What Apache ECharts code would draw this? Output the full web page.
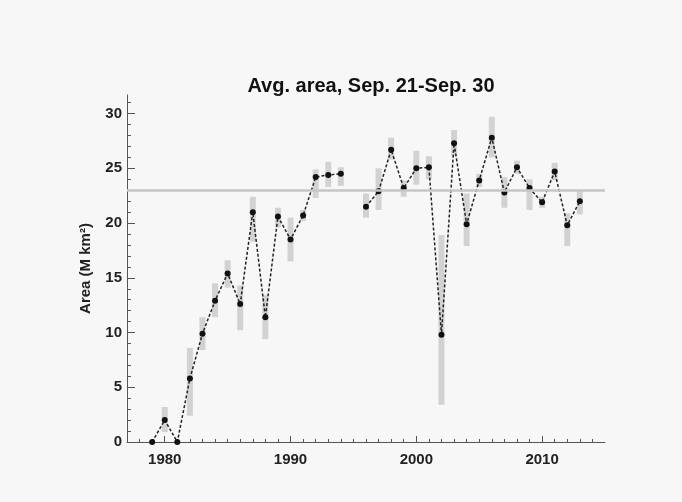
<!DOCTYPE html>
<html><head><meta charset="utf-8">
<script src="https://cdn.jsdelivr.net/npm/echarts@6/dist/echarts.min.js"></script>
<style>html,body{margin:0;padding:0;background:#f7f7f7}#c{width:682px;height:502px}</style>
</head><body><div id="c"></div>
<script>
const titleText = 'Avg. area, Sep. 21-Sep. 30';
const yName = 'Area (M km\u00B2)';
const years = [1979,1980,1981,1982,1983,1984,1985,1986,1987,1988,1989,1990,1991,1992,1993,1994,1995,1996,1997,1998,1999,2000,2001,2002,2003,2004,2005,2006,2007,2008,2009,2010,2011,2012,2013];
const area = [0,2.0,0,5.8,9.9,12.9,15.4,12.6,21.0,11.4,20.6,18.5,20.7,24.2,24.4,24.5,null,21.5,22.9,26.7,23.2,25.0,25.1,9.8,27.3,19.9,23.9,27.8,22.8,25.1,23.2,21.9,24.7,19.8,22.0];
const errLow = [null,0.9,null,2.4,8.4,11.4,14.1,10.2,18.3,9.4,19.6,16.5,20.2,22.3,23.3,23.4,null,20.5,21.2,25.8,22.4,23.5,24.0,3.4,26.1,17.9,23.3,26.0,21.4,24.5,21.2,21.4,23.9,17.9,20.8];
const errHigh = [null,3.2,null,8.6,11.4,14.5,16.6,14.3,22.4,13.4,21.4,20.5,21.2,24.9,25.6,25.1,null,22.7,25.0,27.8,23.9,26.6,26.1,18.9,28.5,22.7,24.5,29.7,24.2,25.7,24.0,22.4,25.5,20.9,23.0];
const meanArea = 23;
const xMajorTicks = [1980,1990,2000,2010];
const xMinorTicks = [1978,1979,1980,1981,1982,1983,1984,1985,1986,1987,1988,1989,1990,1991,1992,1993,1994,1995,1996,1997,1998,1999,2000,2001,2002,2003,2004,2005,2006,2007,2008,2009,2010,2011,2012,2013,2014];
const yMajorTicks = [0,5,10,15,20,25,30];
const yMinorTicks = [1,2,3,4,6,7,8,9,11,12,13,14,16,17,18,19,21,22,23,24,26,27,28,29,31];

const chart = echarts.init(document.getElementById('c'), null, {renderer:'canvas'});
const font = '"Liberation Sans", Arial, Helvetica, sans-serif';
const axisColor = '#555';
const errData = [];
years.forEach((y,i)=>{ if(errLow[i]!=null) errData.push([y, errLow[i], errHigh[i]]); });
const lineData = years.map((y,i)=>[y, area[i]==null ? '-' : area[i]]);

const xBase = {type:'value', min:1977, max:2015, gridIndex:0, position:'bottom', splitLine:{show:false}};
const yBase = {type:'value', min:0, max:31.7, gridIndex:0, position:'left', splitLine:{show:false}};

chart.setOption({
  animation:false,
  backgroundColor:'#f7f7f7',
  title:{text:titleText, left:366, top:71, textAlign:'center',
    textStyle:{fontFamily:font, fontWeight:'bold', fontSize:20, color:'#111'}},
  grid:{left:127, right:77, top:95, bottom:60},
  xAxis:[
    Object.assign({}, xBase, {
      axisLine:{show:true, lineStyle:{color:axisColor, width:1}},
      axisTick:{show:true, inside:true, length:6, customValues:xMajorTicks, lineStyle:{color:axisColor}},
      axisLabel:{show:true, customValues:xMajorTicks, margin:10, formatter:function(v){return String(v);},
        fontFamily:font, fontWeight:'bold', fontSize:15, color:'#222'}
    }),
    Object.assign({}, xBase, {
      axisLine:{show:false},
      axisTick:{show:true, inside:true, length:3, customValues:xMinorTicks, lineStyle:{color:axisColor}},
      axisLabel:{show:false, customValues:xMinorTicks}
    })
  ],
  yAxis:[
    Object.assign({}, yBase, {
      name:yName, nameLocation:'middle', nameGap:34, nameRotate:90,
      nameTextStyle:{fontFamily:font, fontWeight:'bold', fontSize:15, color:'#222'},
      axisLine:{show:true, lineStyle:{color:axisColor, width:1}},
      axisTick:{show:true, inside:true, length:8, customValues:yMajorTicks, lineStyle:{color:axisColor}},
      axisLabel:{show:true, customValues:yMajorTicks, margin:5, fontFamily:font, fontWeight:'bold', fontSize:15, color:'#222'}
    }),
    Object.assign({}, yBase, {
      axisLine:{show:false},
      axisTick:{show:true, inside:true, length:4, customValues:yMinorTicks, lineStyle:{color:axisColor}},
      axisLabel:{show:false, customValues:yMinorTicks}
    })
  ],
  series:[
    {
      type:'custom', xAxisIndex:0, yAxisIndex:0, data:errData, silent:true,
      renderItem:function(params, api){
        const x = api.value(0), lo = api.value(1), hi = api.value(2);
        const p1 = api.coord([x, hi]), p2 = api.coord([x, lo]);
        const w = 6;
        return {type:'rect', shape:{x:p1[0]-w/2, y:p1[1], width:w, height:p2[1]-p1[1]}, style:{fill:'#d2d2d2'}};
      },
      markLine:{silent:true, symbol:'none', label:{show:false},
        lineStyle:{color:'#c6c6c6', width:2.5, type:'solid'},
        data:[{yAxis:meanArea}]}
    },
    {
      type:'line', xAxisIndex:0, yAxisIndex:0, data:lineData, connectNulls:false,
      symbol:'circle', symbolSize:6,
      itemStyle:{color:'#111'},
      lineStyle:{color:'#222', width:1.5, type:[3,2]}
    }
  ]
});
</script></body></html>
